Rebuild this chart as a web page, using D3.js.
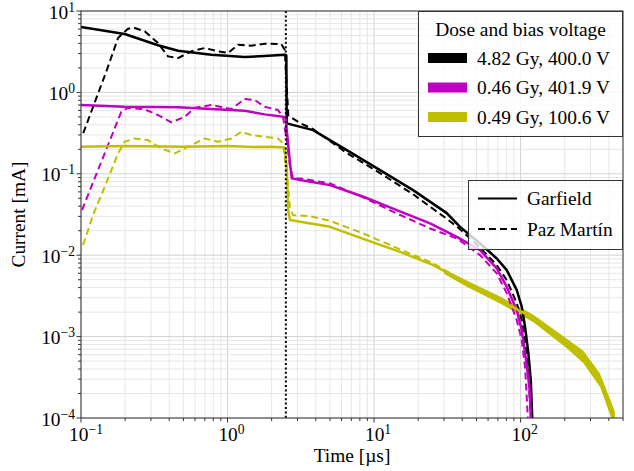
<!DOCTYPE html>
<html>
<head>
<meta charset="utf-8">
<script src="https://cdnjs.cloudflare.com/ajax/libs/d3/7.8.5/d3.min.js"></script>
<style>
  body { margin: 0; background: #fff; }
  svg { font-family: "Liberation Serif", "DejaVu Serif", serif; }
</style>
</head>
<body>
<svg id="chart" width="634" height="471"></svg>
<script>
// [time in us, current in mA]
var blackGarfield = [[0.1, 6.36], [0.1987, 5.22], [0.3354, 3.79], [0.4595, 3.25], [0.775, 2.90], [1.31, 2.72],
  [1.795, 2.80], [2.457, 2.90], [2.52, 2.85], [2.536, 0.416], [3.834, 0.344], [6.512, 0.1956], [10.99, 0.111],
  [18.46, 0.063], [31.35, 0.0329], [38.64, 0.0223], [52.9, 0.01394], [68.8, 0.00912], [80.5, 0.00655],
  [94.2, 0.00372], [101.9, 0.00232], [107.3, 0.00132], [113, 0.000625], [117.4, 0.000291], [120.4, 0.00009]];

var blackPaz = [[0.1036, 0.316], [0.1489, 1.81], [0.179, 4.66], [0.2093, 6.06], [0.2326, 6.18], [0.272, 5.63],
  [0.3354, 4.04], [0.3925, 2.77], [0.4595, 2.64], [0.5662, 3.20], [0.6989, 3.51], [0.8613, 3.20], [1.008, 3.05],
  [1.179, 3.85], [1.454, 3.75], [1.795, 3.96], [2.329, 3.93], [2.457, 3.34], [2.60, 0.52], [3.126, 0.42],
  [3.834, 0.355], [6.512, 0.18], [10.99, 0.102], [18.46, 0.056], [31.35, 0.028], [38.64, 0.0208],
  [52.9, 0.0124], [68.8, 0.00754], [80.5, 0.00493], [94.2, 0.00257], [101.9, 0.00159], [107.3, 0.000903],
  [112.5, 0.000424], [118, 0.00009]];

var magentaGarfield = [[0.1, 0.699], [0.1987, 0.666], [0.4595, 0.655], [0.775, 0.624], [1.31, 0.595],
  [1.795, 0.537], [2.392, 0.502], [2.50, 0.49], [2.536, 0.344], [2.671, 0.1342], [2.744, 0.0878],
  [3.126, 0.0837], [5.01, 0.0726], [8.45, 0.0522], [14.29, 0.0358], [24.12, 0.0246], [36.69, 0.0168],
  [52.9, 0.01153], [68.8, 0.00687], [80.5, 0.00408], [94.2, 0.00211], [101.9, 0.0012], [109, 0.000513],
  [114.8, 0.000241], [118, 0.00009]];

var magentaPaz = [[0.1016, 0.0358], [0.161, 0.285], [0.1884, 0.578],
  [0.2093, 0.648], [0.272, 0.619], [0.3354, 0.527], [0.4134, 0.428], [0.5103, 0.502], [0.5973, 0.648],
  [0.775, 0.699], [1.061, 0.624], [1.31, 0.829], [1.534, 0.805], [1.795, 0.666], [2.212, 0.607],
  [2.392, 0.502], [2.536, 0.2597], [2.671, 0.1219], [2.80, 0.0878], [3.126, 0.0878], [5.01, 0.0762],
  [8.45, 0.0513], [14.29, 0.0326], [24.12, 0.0213], [36.69, 0.0161], [52.9, 0.01001], [68.8, 0.00597],
  [80.5, 0.0034], [94.2, 0.00159], [101.9, 0.000903], [107.3, 0.000424], [112.5, 0.00009]];

var yellowGarfield = [[0.1, 0.2147], [0.2, 0.22], [0.5, 0.215], [1.0, 0.22], [1.5, 0.214], [2.0, 0.215],
  [2.45, 0.21], [2.536, 0.1219], [2.588, 0.0358], [2.671, 0.027], [3.126, 0.0257], [5.01, 0.0223],
  [8.92, 0.0153], [15.05, 0.011], [25.41, 0.00754], [42.94, 0.00449], [72.4, 0.0028], [122.3, 0.00167],
  [206.8, 0.000823], [268.4, 0.000563], [348.9, 0.000291], [408.3, 0.000137], [430, 0.00009]];

// noise envelope of the Garfield 100.6 V tail: [time, low, high]
var yellowTail = [[30, 0.0059, 0.0067], [42.94, 0.0041, 0.0049], [72.4, 0.00255, 0.0031], [122.3, 0.0015, 0.00185],
  [206.8, 0.00072, 0.00094], [268.4, 0.00047, 0.00067], [348.9, 0.00024, 0.00035],
  [408.3, 0.00011, 0.00017], [440, 0.00008, 0.00012]];

var yellowPaz = [[0.1032, 0.01329], [0.1208, 0.0311], [0.1452, 0.0692], [0.179, 0.178], [0.1987, 0.2474],
  [0.2326, 0.272], [0.2866, 0.2597], [0.3533, 0.2052], [0.4361, 0.178], [0.5375, 0.2147], [0.6989, 0.272],
  [0.8613, 0.2474], [1.061, 0.272], [1.242, 0.328], [1.454, 0.299], [1.795, 0.285], [2.212, 0.272],
  [2.392, 0.2364], [2.536, 0.1012], [2.671, 0.0376], [2.80, 0.0311], [3.657, 0.0302], [5.01, 0.0264],
  [8.45, 0.0185], [15.05, 0.0118], [25.41, 0.0079], [42.94, 0.0046], [72.4, 0.0029], [122.3, 0.0017],
  [206.8, 0.00084], [268.4, 0.00057], [348.9, 0.0003], [408.3, 0.00014], [430, 0.00009]];

var pulseEnd = 2.5;
var doseLabels = ["4.82 Gy, 400.0 V", "0.46 Gy, 401.9 V", "0.49 Gy, 100.6 V"];
var doseColors = ["#000000", "#bf00bf", "#bfbf00"];
var modelLabels = ["Garfield", "Paz Martín"];
var xMajor = [-1, 0, 1, 2];
var yMajor = [-4, -3, -2, -1, 0, 1];

var pL = 81, pR = 623, pT = 11, pB = 418;
var fs = 19.4;

var svg = d3.select("#chart");

var x = d3.scaleLog().domain([0.1, 500]).range([pL, pR]);
var y = d3.scaleLog().domain([1e-4, 10]).range([pB, pT]);

svg.append("defs").append("clipPath").attr("id", "clip")
  .append("rect").attr("x", pL).attr("y", pT).attr("width", pR - pL).attr("height", pB - pT);

function isMajor(v) { return Math.abs(Math.log10(v) - Math.round(Math.log10(v))) < 1e-6; }

// grid
var grid = svg.append("g");
x.ticks().forEach(function (v) {
  grid.append("line").attr("x1", x(v)).attr("x2", x(v)).attr("y1", pT).attr("y2", pB)
    .attr("stroke", isMajor(v) ? "#d2d2d2" : "#e6e6e6").attr("stroke-width", 1);
});
y.ticks().forEach(function (v) {
  grid.append("line").attr("y1", y(v)).attr("y2", y(v)).attr("x1", pL).attr("x2", pR)
    .attr("stroke", isMajor(v) ? "#d2d2d2" : "#e6e6e6").attr("stroke-width", 1);
});

var plot = svg.append("g").attr("clip-path", "url(#clip)");

var line = d3.line().x(function (d) { return x(d[0]); }).y(function (d) { return y(d[1]); });
var band = d3.area().x(function (d) { return x(d[0]); })
  .y0(function (d) { return y(d[1]); }).y1(function (d) { return y(d[2]); });

var series = [
  { data: blackGarfield, color: doseColors[0], dash: null },
  { data: blackPaz, color: doseColors[0], dash: "7,4" },
  { data: magentaGarfield, color: doseColors[1], dash: null },
  { data: magentaPaz, color: doseColors[1], dash: "7,4" },
  { data: yellowGarfield, color: doseColors[2], dash: null },
  { data: yellowPaz, color: doseColors[2], dash: "7,4" }
];

plot.append("path").datum(yellowTail).attr("d", band).attr("fill", doseColors[2]);

series.forEach(function (s) {
  plot.append("path").datum(s.data).attr("d", line)
    .attr("fill", "none").attr("stroke", s.color).attr("stroke-width", s.dash ? 2 : 2.5)
    .attr("stroke-linejoin", "round")
    .attr("stroke-dasharray", s.dash);
});

// end of irradiation
plot.append("line").attr("x1", x(pulseEnd)).attr("x2", x(pulseEnd)).attr("y1", pT).attr("y2", pB)
  .attr("stroke", "#000").attr("stroke-width", 2).attr("stroke-dasharray", "2,2.4");

// axes frame and ticks
svg.append("rect").attr("x", pL).attr("y", pT).attr("width", pR - pL).attr("height", pB - pT)
  .attr("fill", "none").attr("stroke", "#333").attr("stroke-width", 1);

var ticks = svg.append("g").attr("stroke", "#333");
x.ticks().forEach(function (v) {
  ticks.append("line").attr("x1", x(v)).attr("x2", x(v)).attr("y1", pB).attr("y2", pB + (isMajor(v) ? 4.5 : 3));
});
y.ticks().forEach(function (v) {
  ticks.append("line").attr("y1", y(v)).attr("y2", y(v)).attr("x1", pL).attr("x2", pL - (isMajor(v) ? 4.5 : 3));
});

function power(g, e) {
  g.append("tspan").text("10");
  g.append("tspan").attr("dy", -7).attr("font-size", fs * 0.7).text(String(e).replace("-", "\u2212"));
}

xMajor.forEach(function (e) {
  var t = svg.append("text").attr("x", x(Math.pow(10, e)) + (e < 0 ? 5 : 4)).attr("y", pB + 23)
    .attr("text-anchor", "middle").attr("font-size", fs);
  power(t, e);
});
yMajor.forEach(function (e) {
  var t = svg.append("text").attr("x", pL - 6).attr("y", y(Math.pow(10, e)) + 7.5)
    .attr("text-anchor", "end").attr("font-size", fs);
  power(t, e);
});

svg.append("text").attr("x", (pL + pR) / 2).attr("y", 462).attr("text-anchor", "middle")
  .attr("font-size", fs).text("Time [µs]");
svg.append("text").attr("transform", "translate(25," + (pT + pB) / 2 + ") rotate(-90)")
  .attr("text-anchor", "middle").attr("font-size", fs).text("Current [mA]");

// dose legend
var lg1 = svg.append("g");
lg1.append("rect").attr("x", 418.5).attr("y", 11.5).attr("width", 204).attr("height", 125)
  .attr("fill", "#fff").attr("fill-opacity", 0.8).attr("stroke", "#333");
lg1.append("text").attr("x", 520.5).attr("y", 35.5).attr("text-anchor", "middle").attr("font-size", fs)
  .text("Dose and bias voltage");
doseLabels.forEach(function (lab, i) {
  var cy = 58 + i * 29.5;
  lg1.append("rect").attr("x", 428).attr("y", cy - 5).attr("width", 39).attr("height", 10).attr("fill", doseColors[i]);
  lg1.append("text").attr("x", 477).attr("y", cy + 6.5).attr("font-size", fs).text(lab);
});

// model legend
var lg2 = svg.append("g");
lg2.append("rect").attr("x", 468.5).attr("y", 180.5).attr("width", 154).attr("height", 69)
  .attr("fill", "#fff").attr("fill-opacity", 0.8).attr("stroke", "#333");
modelLabels.forEach(function (lab, i) {
  var cy = 198.5 + i * 30.5;
  lg2.append("line").attr("x1", 478).attr("x2", 517).attr("y1", cy).attr("y2", cy)
    .attr("stroke", "#000").attr("stroke-width", 2).attr("stroke-dasharray", i ? "7,4" : null);
  lg2.append("text").attr("x", 527).attr("y", cy + 6.5).attr("font-size", fs).text(lab);
});
</script>
</body>
</html>
